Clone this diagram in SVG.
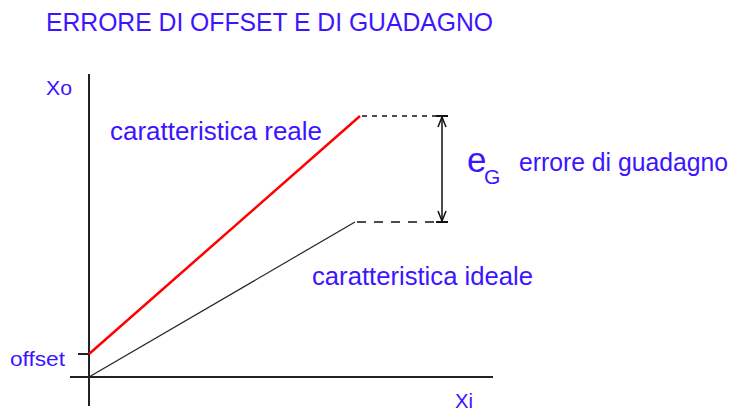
<svg xmlns="http://www.w3.org/2000/svg" width="731" height="413" viewBox="0 0 731 413">
<defs>
<style>
.t{font-family:"Liberation Sans",Arial,sans-serif;fill:#3c14ff;}
.ax{stroke:#222;stroke-width:2;fill:none;}
.dash{stroke:#111;stroke-width:1.5;fill:none;}
</style>
<marker id="ah" viewBox="0 0 12 12" refX="11" refY="6" markerWidth="12" markerHeight="12" markerUnits="userSpaceOnUse" orient="auto-start-reverse">
<path d="M1,2 L11,6 L1,10" fill="none" stroke="#111" stroke-width="1.5"/>
</marker>
</defs>
<rect width="731" height="413" fill="#fff"/>
<text class="t" x="46" y="31" font-size="25" textLength="447" lengthAdjust="spacingAndGlyphs">ERRORE DI OFFSET E DI GUADAGNO</text>
<g id="axes">
<line class="ax" x1="89" y1="74" x2="89" y2="406"/>
<line class="ax" x1="70" y1="377" x2="493" y2="377"/>
<line class="ax" x1="78" y1="354" x2="89" y2="354"/>
</g>
<g id="labels-axes">
<text class="t" x="46" y="95" font-size="21" textLength="26" lengthAdjust="spacingAndGlyphs">Xo</text>
<text class="t" x="455" y="408" font-size="21" textLength="18" lengthAdjust="spacingAndGlyphs">Xi</text>
<text class="t" x="10" y="366" font-size="21" textLength="55" lengthAdjust="spacingAndGlyphs">offset</text>
</g>
<g id="connectors">
<line id="real" x1="89" y1="354" x2="360" y2="116" stroke="#ff0000" stroke-width="2.5"/>
<line id="ideal" x1="89" y1="377" x2="355" y2="222" stroke="#222" stroke-width="1.2"/>
<line class="dash" x1="362" y1="116" x2="440" y2="116" stroke-dasharray="5 5"/>
<line class="dash" x1="357" y1="222" x2="440" y2="222" stroke-dasharray="9 8"/>
<line x1="436" y1="116" x2="448" y2="116" stroke="#111" stroke-width="2"/>
<line x1="436" y1="222" x2="448" y2="222" stroke="#111" stroke-width="2"/>
<line x1="442" y1="117" x2="442" y2="221" stroke="#111" stroke-width="1.5" marker-start="url(#ah)" marker-end="url(#ah)"/>
</g>
<g id="real-label">
<text class="t" x="110" y="140" font-size="25" textLength="212" lengthAdjust="spacingAndGlyphs">caratteristica reale</text>
</g>
<g id="ideal-label">
<text class="t" x="312" y="285" font-size="25" textLength="221" lengthAdjust="spacingAndGlyphs">caratteristica ideale</text>
</g>
<g id="gain-label">
<text class="t" x="467" y="172" font-size="35">e</text>
<text class="t" x="484" y="184" font-size="21">G</text>
<text class="t" x="519" y="171" font-size="25" textLength="209" lengthAdjust="spacingAndGlyphs">errore di guadagno</text>
</g>
</svg>
